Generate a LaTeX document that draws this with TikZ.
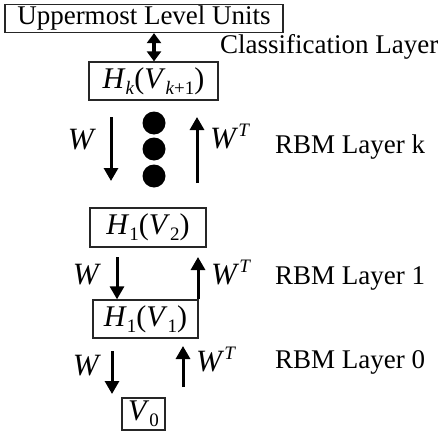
\documentclass[tikz,border=0pt]{standalone}
\usepackage{fontspec}
\setmainfont{Liberation Serif}
\usetikzlibrary{arrows.meta}
\newcommand{\mi}[1]{\textit{#1}}
\newcommand{\lo}[1]{\raisebox{-6pt}{\fontsize{19}{20}\selectfont #1}}
\newcommand{\hi}[1]{\raisebox{12pt}{\fontsize{19}{20}\selectfont #1}}
\begin{document}
\begin{tikzpicture}[x=1pt,y=-1pt,
  box/.style={draw=black!85,line width=1.3pt,inner sep=0pt,font=\fontsize{30}{32}\selectfont},
  lbl/.style={inner sep=0pt,font=\fontsize{27}{29}\selectfont},
  mlbl/.style={inner sep=0pt,font=\fontsize{31}{33}\selectfont},
  arr/.style={line width=3pt,-{Triangle[width=14pt,length=13pt]}},
  darr/.style={line width=3.6pt,{Triangle[width=14pt,length=10pt]}-{Triangle[width=14pt,length=10pt]}},
  dot/.style={circle,fill=black,inner sep=0pt,minimum size=23pt}]
\useasboundingbox (0,0) rectangle (443,433);
% boxes
\node[box,font=\fontsize{27}{29}\selectfont,minimum width=278pt,minimum height=28pt] (top) at (144,18.5) {Uppermost Level Units};
\node[box,minimum width=129pt,minimum height=38pt] (hk) at (153.5,81) {\mi{H}\lo{\mi{k}}(\mi{V}\lo{\mi{k}+1})};
\node[box,minimum width=116pt,minimum height=39pt] (h2) at (148,227.5) {\mi{H}\lo{1}(\mi{V}\lo{2})};
\node[box,minimum width=105pt,minimum height=38pt] (h1) at (145.5,319) {\mi{H}\lo{1}(\mi{V}\lo{1})};
\node[box,minimum width=43pt,minimum height=32pt] (v0) at (143.5,414) {\mi{V}\lo{0}};
% classification arrow
\draw[darr] (top.south -| 154,0) -- (hk.north -| 154,0);
\node[lbl,anchor=west] (cl) at (220,47) {Classification Layer};
% layer k
\coordinate (dk1) at (111,117); \coordinate (dk2) at (111,181);
\coordinate (uk1) at (197,183); \coordinate (uk2) at (197,117);
\draw[arr] (dk1) -- (dk2);
\draw[arr] (uk1) -- (uk2);
\node[dot] (d1) at (154,123) {};
\node[dot] (d2) at (154,149) {};
\node[dot] (d3) at (154,176) {};
\node[mlbl] (wk) at (82,140) {\mi{W}};
\node[mlbl,anchor=west] (wtk) at (210,137) {\mi{W}\hi{\mi{T}}};
\node[lbl,anchor=west] (rk) at (275,147) {RBM Layer k};
% layer 1
\coordinate (d11) at (117,257);
\coordinate (u12) at (198,257);
\draw[arr] (d11) -- (d11 |- h1.north);
\draw[arr] (h1.north -| u12) -- (u12);
\node[mlbl] (w1) at (87,275) {\mi{W}};
\node[mlbl,anchor=west] (wt1) at (211,273) {\mi{W}\hi{\mi{T}}};
\node[lbl,anchor=west] (r1) at (275,278) {RBM Layer 1};
% layer 0
\coordinate (d01) at (112,351); \coordinate (d02) at (112,394);
\coordinate (u01) at (183,387); \coordinate (u02) at (183,346);
\draw[arr] (d01) -- (d02);
\draw[arr] (u01) -- (u02);
\node[mlbl] (w0) at (87,366) {\mi{W}};
\node[mlbl,anchor=west] (wt0) at (196,360) {\mi{W}\hi{\mi{T}}};
\node[lbl,anchor=west] (r0) at (275,362) {RBM Layer 0};
\end{tikzpicture}
\end{document}
